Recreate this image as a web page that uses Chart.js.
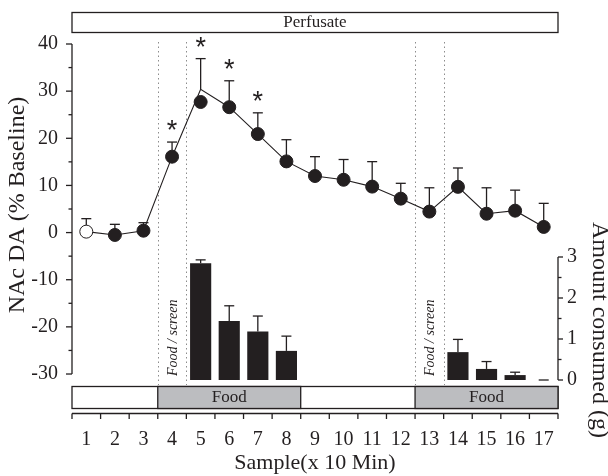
<!DOCTYPE html>
<html>
<head>
<meta charset="utf-8">
<script src="https://cdn.jsdelivr.net/npm/chart.js@4.4.1/dist/chart.umd.min.js"></script>
<style>
  html, body { margin: 0; padding: 0; background: #fff; }
  #wrap { width: 608px; height: 476px; }
</style>
</head>
<body>
<div id="wrap"><canvas id="chart" width="608" height="476"></canvas></div>
<script>
// samples, x 10 min
const samples = ['1', '2', '3', '4', '5', '6', '7', '8', '9', '10', '11', '12', '13', '14', '15', '16', '17'];

// NAc DA (% baseline), mean and upper SEM
const daMean = [0.2, -0.5, 0.4, 16.1, 30.4, 26.6, 20.9, 15.1, 12.0, 11.2, 9.75, 7.2, 4.45, 9.7, 4.0, 4.65, 1.2];
const daSem = [2.75, 2.25, 1.7, 3.1, 6.5, 5.6, 4.5, 4.6, 4.1, 4.3, 5.3, 3.25, 5.05, 4.0, 5.5, 4.35, 5.0];
// the dot of sample 5 sits a bit under the mean in the original figure
const daDot = [0.2, -0.5, 0.4, 16.1, 27.7, 26.6, 20.9, 15.1, 12.0, 11.2, 9.75, 7.2, 4.45, 9.7, 4.0, 4.65, 1.2];
const daStars = [4, 5, 6, 7];

// amount consumed (g), mean and upper SEM
const foodMean = [null, null, null, null, 2.85, 1.44, 1.18, 0.71, null, null, null, null, null, 0.68, 0.27, 0.12, 0];
const foodSem = [null, null, null, null, 0.08, 0.37, 0.38, 0.36, null, null, null, null, null, 0.31, 0.18, 0.07, 0];

const leftTicks = [-30, -20, -10, 0, 10, 20, 30, 40];
const rightTicks = [0, 1, 2, 3];

// food available (first..last sample), food/screen sample
const foodPeriods = [[4, 8], [13, 17]];
const screenSamples = [4, 13];

const ink = '#231f20';
const serif = "'Liberation Serif', 'Times New Roman', serif";
Chart.defaults.font.family = serif;
Chart.defaults.color = ink;

function seg(ctx, x1, y1, x2, y2) {
  ctx.beginPath();
  ctx.moveTo(x1, y1);
  ctx.lineTo(x2, y2);
  ctx.stroke();
}

// dotted markers + rotated notes, behind the data
const backdrop = {
  id: 'backdrop',
  beforeDatasetsDraw(chart) {
    const { ctx, scales: { x } } = chart;
    const step = x.getPixelForValue(1) - x.getPixelForValue(0);
    ctx.save();
    ctx.strokeStyle = '#8c8c8c';
    ctx.lineWidth = 1;
    ctx.setLineDash([1.5, 3]);
    screenSamples.forEach(s => {
      const c = x.getPixelForValue(s - 1);
      [c - step / 2, c + step / 2].forEach(px => seg(ctx, Math.round(px) + 0.5, 42, Math.round(px) + 0.5, 385));
    });
    ctx.setLineDash([]);
    ctx.fillStyle = ink;
    ctx.font = 'italic 14px ' + serif;
    ctx.textAlign = 'left';
    ctx.textBaseline = 'middle';
    screenSamples.forEach(s => {
      ctx.save();
      ctx.translate(x.getPixelForValue(s - 1) + 1, 376);
      ctx.rotate(-Math.PI / 2);
      ctx.fillText('Food / screen', 0, 0);
      ctx.restore();
    });
    ctx.restore();
  }
};

const errorBars = {
  id: 'errorBars',
  beforeDatasetsDraw(chart) {
    const { ctx, scales: { x, y, y2 } } = chart;
    ctx.save();
    ctx.strokeStyle = ink;
    ctx.lineWidth = 1.3;
    const draw = (means, sems, scale) => means.forEach((m, i) => {
      if (m === null) return;
      const px = x.getPixelForValue(i);
      const top = scale.getPixelForValue(m + sems[i]);
      seg(ctx, px, scale.getPixelForValue(m), px, top);
      seg(ctx, px - 5, top, px + 5, top);
    });
    draw(daMean, daSem, y);
    draw(foodMean, foodSem, y2);
    ctx.restore();
  }
};

// axes lines, boxes, stars, titles
const frame = {
  id: 'frame',
  afterDraw(chart) {
    const { ctx, chartArea: a, scales: { x, y, y2 } } = chart;
    const step = x.getPixelForValue(1) - x.getPixelForValue(0);
    const left = x.getPixelForValue(0) - step / 2;
    ctx.save();
    ctx.strokeStyle = ink;
    ctx.lineWidth = 1.3;

    // left axis
    seg(ctx, a.left, y.getPixelForValue(40), a.left, y.getPixelForValue(-30));
    for (let v = -30; v <= 40; v += 5) {
      const py = y.getPixelForValue(v);
      seg(ctx, a.left - (v % 10 === 0 ? 6 : 3.5), py, a.left, py);
    }
    // right axis
    seg(ctx, a.right, y2.getPixelForValue(3), a.right, y2.getPixelForValue(0));
    for (let v = 0; v <= 3; v += 0.5) {
      const py = y2.getPixelForValue(v);
      seg(ctx, a.right, py, a.right + (v % 1 === 0 ? 5 : 3.5), py);
    }
    // bottom axis
    seg(ctx, a.left, 413.5, a.right, 413.5);
    for (let i = 0; i <= samples.length; i++) {
      const px = left + i * step;
      seg(ctx, px, 413.5, px, 419);
    }

    // perfusate box
    ctx.fillStyle = '#fff';
    ctx.fillRect(a.left, 12.5, a.right - a.left, 20);
    ctx.strokeRect(a.left, 12.5, a.right - a.left, 20);
    ctx.fillStyle = ink;
    ctx.font = '17px ' + serif;
    ctx.textAlign = 'center';
    ctx.textBaseline = 'middle';
    ctx.fillText('Perfusate', (a.left + a.right) / 2, 23);

    // food row
    ctx.strokeRect(a.left, 386.5, a.right - a.left, 22);
    foodPeriods.forEach(([s, e]) => {
      const x0 = left + (s - 1) * step;
      const x1 = left + e * step;
      ctx.fillStyle = '#bcbdc0';
      ctx.fillRect(x0, 386.5, x1 - x0, 22);
      ctx.strokeRect(x0, 386.5, x1 - x0, 22);
      ctx.fillStyle = ink;
      ctx.fillText('Food', (x0 + x1) / 2, 398);
    });

    // significance
    ctx.font = '27px "Liberation Sans", sans-serif';
    ctx.textBaseline = 'alphabetic';
    daStars.forEach(s => {
      const i = s - 1;
      const cap = y.getPixelForValue(daMean[i] + daSem[i]);
      ctx.fillText('*', x.getPixelForValue(i), cap - 3);
    });

    // axis titles
    ctx.font = '22px ' + serif;
    ctx.textBaseline = 'middle';
    ctx.fillText('Sample(x 10 Min)', (a.left + a.right) / 2, 463);
    ctx.font = '24px ' + serif;
    ctx.save();
    ctx.translate(18, 205);
    ctx.rotate(-Math.PI / 2);
    ctx.fillText('NAc DA (% Baseline)', 0, 0);
    ctx.restore();
    ctx.save();
    ctx.translate(599, 330);
    ctx.rotate(Math.PI / 2);
    ctx.fillText('Amount consumed (g)', 0, 0);
    ctx.restore();
    ctx.restore();
  }
};

new Chart(document.getElementById('chart'), {
  data: {
    labels: samples,
    datasets: [
      {
        type: 'line',
        data: daDot,
        yAxisID: 'y',
        showLine: false,
        pointRadius: 6.5,
        pointBorderWidth: 1,
        pointBorderColor: ink,
        pointBackgroundColor: daDot.map((v, i) => (i === 0 ? '#fff' : ink)),
      },
      {
        type: 'line',
        data: daMean,
        yAxisID: 'y',
        borderColor: ink,
        borderWidth: 1.1,
        pointRadius: 0,
        tension: 0,
      },
      {
        type: 'bar',
        data: foodMean,
        yAxisID: 'y2',
        backgroundColor: ink,
        barPercentage: 0.74,
        categoryPercentage: 1,
      },
    ],
  },
  options: {
    responsive: false,
    animation: false,
    devicePixelRatio: 1,
    layout: { padding: { top: 44, left: 0, right: 0, bottom: 0 } },
    plugins: { legend: { display: false }, tooltip: { enabled: false } },
    scales: {
      x: {
        offset: true,
        grid: { display: false, drawTicks: false },
        border: { display: false },
        ticks: { font: { size: 20 }, padding: 48, maxRotation: 0, autoSkip: false, color: ink },
        afterFit: (s) => { s.height = 96; },
      },
      y: {
        position: 'left',
        min: -31.27,
        max: 40,
        grid: { display: false, drawTicks: false },
        border: { display: false },
        ticks: { font: { size: 20 }, padding: 14, color: ink },
        afterBuildTicks: (s) => { s.ticks = leftTicks.map(v => ({ value: v })); },
        afterFit: (s) => { s.width = 72; },
      },
      y2: {
        position: 'right',
        min: 0,
        max: 8.195,
        grid: { display: false, drawTicks: false },
        border: { display: false },
        ticks: { font: { size: 20 }, padding: 9, color: ink },
        afterBuildTicks: (s) => { s.ticks = rightTicks.map(v => ({ value: v })); },
        afterFit: (s) => { s.width = 50; },
      },
    },
  },
  plugins: [backdrop, errorBars, frame],
});
</script>
</body>
</html>
